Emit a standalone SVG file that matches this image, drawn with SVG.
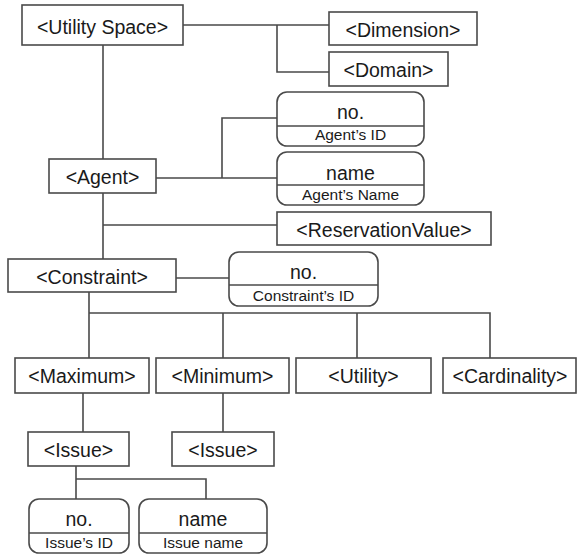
<svg xmlns="http://www.w3.org/2000/svg" width="578" height="556" viewBox="0 0 578 556">
<style>
  .box { fill: #ffffff; stroke: #4a4a4a; stroke-width: 1.6; }
  .div { stroke: #4a4a4a; stroke-width: 1.4; fill: none; }
  .conn { stroke: #4a4a4a; stroke-width: 1.6; fill: none; }
  .t { font-family: "Liberation Sans", Arial, sans-serif; font-size: 19.5px; fill: #1a1a1a; text-anchor: middle; }
  .s { font-family: "Liberation Sans", Arial, sans-serif; font-size: 15.5px; fill: #1a1a1a; text-anchor: middle; }
</style>
<rect width="578" height="556" fill="#ffffff"/>
<g id="connectors">
  <path class="conn" d="M103,45 V159"/>
  <path class="conn" d="M183,25 H329 M277,25 V72 H329"/>
  <path class="conn" d="M156,178 H277 M222,178 V118 H277"/>
  <path class="conn" d="M103,193 V259 M103,225 H277"/>
  <path class="conn" d="M176,278 H229"/>
  <path class="conn" d="M89,292 V358 M89,313 H490 V358 M223,313 V358 M357,313 V358"/>
  <path class="conn" d="M83,393 V432 M223,393 V432"/>
  <path class="conn" d="M76,466 V499 M76,479 H206 V499"/>
</g>
<g id="utility-space"><rect class="box" x="22" y="5" width="161" height="40"/><text class="t" x="102.5" y="33.5">&lt;Utility Space&gt;</text></g>
<g id="dimension"><rect class="box" x="329" y="12" width="148" height="33"/><text class="t" x="403" y="36.5">&lt;Dimension&gt;</text></g>
<g id="domain"><rect class="box" x="329" y="52" width="119" height="34"/><text class="t" x="388.5" y="76.5">&lt;Domain&gt;</text></g>
<g id="agent-no"><rect class="box" x="277" y="92" width="147" height="54" rx="10"/><line class="div" x1="277" y1="126" x2="424" y2="126"/><text class="t" x="350.5" y="119">no.</text><text class="s" x="350.5" y="140">Agent’s ID</text></g>
<g id="agent-name"><rect class="box" x="277" y="152" width="147" height="53" rx="10"/><line class="div" x1="277" y1="185" x2="424" y2="185"/><text class="t" x="350.5" y="179.5">name</text><text class="s" x="350.5" y="200">Agent’s Name</text></g>
<g id="agent"><rect class="box" x="49" y="159" width="107" height="34"/><text class="t" x="102.5" y="184">&lt;Agent&gt;</text></g>
<g id="reservation-value"><rect class="box" x="277" y="212" width="214" height="33"/><text class="t" x="384" y="236.5">&lt;ReservationValue&gt;</text></g>
<g id="constraint"><rect class="box" x="8" y="259" width="168" height="33"/><text class="t" x="92" y="283.5">&lt;Constraint&gt;</text></g>
<g id="constraint-no"><rect class="box" x="229" y="252" width="149" height="54" rx="10"/><line class="div" x1="229" y1="285" x2="378" y2="285"/><text class="t" x="303.5" y="279">no.</text><text class="s" x="303.5" y="300.5">Constraint’s ID</text></g>
<g id="maximum"><rect class="box" x="15" y="358" width="134" height="35"/><text class="t" x="82" y="382.5">&lt;Maximum&gt;</text></g>
<g id="minimum"><rect class="box" x="156" y="358" width="133" height="35"/><text class="t" x="222.5" y="382.5">&lt;Minimum&gt;</text></g>
<g id="utility"><rect class="box" x="296" y="358" width="135" height="35"/><text class="t" x="363.5" y="382.5">&lt;Utility&gt;</text></g>
<g id="cardinality"><rect class="box" x="443" y="358" width="133" height="35"/><text class="t" x="510" y="382.5">&lt;Cardinality&gt;</text></g>
<g id="issue-max"><rect class="box" x="28" y="432" width="101" height="34"/><text class="t" x="78.5" y="456.5">&lt;Issue&gt;</text></g>
<g id="issue-min"><rect class="box" x="172" y="432" width="102" height="34"/><text class="t" x="223" y="456.5">&lt;Issue&gt;</text></g>
<g id="issue-no"><rect class="box" x="29" y="499" width="100" height="54" rx="10"/><line class="div" x1="29" y1="533" x2="129" y2="533"/><text class="t" x="79" y="526">no.</text><text class="s" x="79" y="547.5">Issue’s ID</text></g>
<g id="issue-name"><rect class="box" x="139" y="499" width="128" height="54" rx="10"/><line class="div" x1="139" y1="533" x2="267" y2="533"/><text class="t" x="203" y="526">name</text><text class="s" x="203" y="547.5">Issue name</text></g>
</svg>
